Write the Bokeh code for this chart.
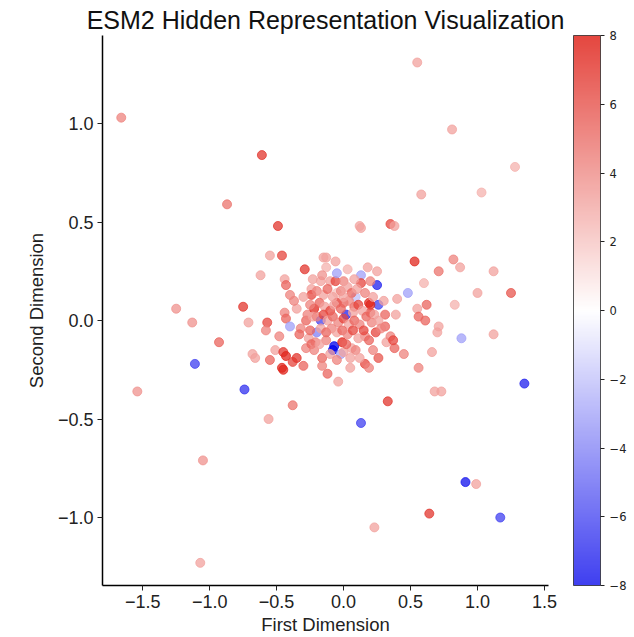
from bokeh.plotting import figure
from bokeh.models import ColumnDataSource, LinearColorMapper, ColorBar, FixedTicker, Range1d
from bokeh.embed import file_html
from bokeh.resources import INLINE

# ---- data ----
x_vals = [-1.66, -0.61, -0.87, -0.49, 0.55, 0.81, 1.28, 0.58, 1.03, 0.12,
          0.13, 0.35, 0.38, -0.55, -0.46, -0.29, -0.15, -0.13, -0.13, -0.62,
          -0.44, -0.43, -0.40, -0.24, -0.24, -0.23, -0.17, -0.10, -0.06, 0.00,
          -0.05, -0.05, -1.25, -0.75, -0.05, 0.53, 0.82, 0.87, 0.71, 1.12,
          0.60, 0.48, 1.00, 1.25, 0.40, 0.62, 0.83, 0.55, 0.13, 0.25,
          0.26, 0.13, 0.20, 0.09, 0.00, 0.08, 0.20, 0.56, 0.61, 0.71,
          0.31, 0.39, 0.31, 0.02, 0.19, 0.20, -0.71, -0.57, -0.44, -0.43,
          -0.40, -0.32, -0.28, -0.27, -0.22, -0.23, -0.17, -0.93, -0.58, -0.48,
          -0.68, -0.66, -0.55, -0.51, -0.45, -0.43, -0.46, -0.45, -0.38, -0.35,
          -0.30, -0.28, -0.26, -0.21, -0.20, -0.13, -0.16, -0.16, -0.12, -0.07,
          -0.08, -0.04, -0.74, -0.38, -0.56, 0.88, 0.66, 0.56, 0.68, 0.73,
          0.33, 0.13, 0.45, 0.38, 0.26, 0.16, 0.19, 0.05, 0.05, 0.06,
          0.24, 0.16, 0.32, 0.35, 0.37, 0.70, -0.01, -0.02, 1.35, 1.12,
          0.91, 0.99, 0.64, 1.17, 0.23, -1.13, -1.11, -1.54, -1.05, -1.07,
          -0.24,
          -0.20, -0.15, -0.12, -0.08, -0.02, 0.03, 0.06, 0.10, 0.16, 0.22,
          -0.25, -0.18, -0.14, -0.10, -0.07, -0.02, 0.04, 0.07, 0.11, 0.14,
          0.17, 0.23, -0.20, -0.15, -0.12, -0.08, -0.04, 0.00, 0.04, 0.08,
          0.12, 0.15, 0.21, 0.26, -0.25, -0.17, -0.13, -0.09, -0.05, -0.01,
          0.03, 0.07, 0.11, 0.19, -0.22, -0.18, -0.10, -0.05, 0.00, 0.02,
          0.09, 0.12, 0.22, -0.35, -0.33, -0.37, 0.30, 0.28, -0.30, 0.00,
          -0.16, 0.08, 0.03, 0.18, -0.06, 0.25]
y_vals = [1.03, 0.84, 0.59, 0.48, 1.31, 0.97, 0.78, 0.64, 0.65, 0.48,
          0.47, 0.49, 0.48, 0.33, 0.33, 0.26, 0.32, 0.32, 0.27, 0.23,
          0.21, 0.18, 0.13, 0.16, 0.13, 0.21, 0.20, 0.20, 0.20, 0.20,
          0.24, 0.14, 0.06, 0.07, 0.09, 0.30, 0.31, 0.27, 0.25, 0.25,
          0.19, 0.14, 0.14, 0.14, 0.11, 0.08, 0.08, 0.06, 0.23, 0.18,
          0.08, 0.19, 0.20, 0.12, 0.09, 0.07, 0.08, 0.02, 0.00, -0.03,
          0.03, 0.03, -0.03, 0.03, 0.09, 0.04, -0.01, -0.01, 0.04, 0.01,
          -0.03, -0.04, 0.00, 0.03, 0.06, 0.02, 0.00, -0.11, -0.05, -0.08,
          -0.17, -0.19, -0.20, -0.15, -0.16, -0.18, -0.24, -0.25, -0.21, -0.19,
          -0.23, -0.14, -0.09, -0.11, -0.06, -0.10, -0.19, -0.23, -0.27, -0.13,
          -0.15, -0.31, -0.35, -0.43, -0.50, -0.09, -0.16, -0.24, -0.36, -0.36,
          -0.41, -0.52, -0.17, -0.14, -0.19, -0.22, -0.24, -0.24, -0.19, -0.14,
          -0.06, -0.08, -0.11, -0.08, -0.10, -0.06, -0.11, -0.17, -0.32, -0.07,
          -0.82, -0.83, -0.98, -1.00, -1.05, -0.01, -0.22, -0.36, -0.71, -1.23,
          -0.12,
          0.15, 0.13, 0.16, 0.12, 0.15, 0.17, 0.14, 0.16, 0.14, 0.12,
          0.08, 0.09, 0.07, 0.05, 0.08, 0.06, 0.10, 0.04, 0.08, 0.05,
          0.02, 0.03, 0.02, 0.03, 0.00, 0.02, -0.01, 0.01, -0.02, 0.00,
          -0.02, -0.05, -0.01, 0.00, -0.05, -0.04, -0.06, -0.04, -0.06, -0.05,
          -0.07, -0.05, -0.09, -0.10, -0.15, -0.12, -0.17, -0.20, -0.16, -0.12,
          -0.15, -0.19, -0.15, 0.06, -0.07, 0.10, 0.10, -0.04, 0.12, 0.12,
          0.23, 0.21, 0.26, 0.27, 0.30, 0.25]
c_vals = [4, 6.5, 4.5, 6.5, 3, 3, 2.5, 3, 2.5, 3,
          3, 6, 3, 3, 6, 6.5, 3, 3, 2.5, 3,
          3, 5, 4, 3, 6, 3, 3, 3, 6, 4,
          -3, 2, 3.5, 6.5, 6.5, 7, 4, 3, 4.5, 3,
          2.5, -3, 3, 5.5, 3, 5, 2.5, 3, -3, -7,
          -6, 6, 4, -2, 5, 5, 7, 5, 5, 3,
          5, 3, 5, -7, 7, 6, 3, 6, 4, 5,
          -3, 4, 5, 4, 7, 3, -6, 5, 4, 4,
          3, 3, 5, 3, 6.5, 7, 7, 7, 6, 6.5,
          5, 4, 3, 4, -4, 4, 5, 4, 5, -8,
          -8, 3, -6.5, 4.5, 3, -3, 3, 4, 3, 3,
          6.5, -6, 4, 5, 5.5, 6, 4, 3, 3, 3,
          6, 4, 3, 4, 6, 3, 7, -3, -7, 3,
          -7.5, 3, 6.5, -6, 3, 3.5, -6, 3.5, 3.5, 3,
          5,
          4, 3, 5, 3, 4, 3, 5, 3, 4, 3,
          4, 5, 3, 6, 3, 5, 4, 3, 6, 3,
          5, 3, 4, 6, 3, 5, 4, 6, 3, 5,
          4, 6, 4, 3, 5, 3, 5, 4, 3, 5,
          4, 6, 3, 5, 4, 3, 3, 4, 3, 5,
          4, 3, 4, 3, 5, 4, 3, 4, 3, 3,
          3.5, 3, 2.5, 3, 3, 3]

x_ticks = [-1.5, -1.0, -0.5, 0.0, 0.5, 1.0, 1.5]
x_tick_labels = ["\u22121.5", "\u22121.0", "\u22120.5", "0.0", "0.5", "1.0", "1.5"]
y_ticks = [-1.0, -0.5, 0.0, 0.5, 1.0]
y_tick_labels = ["\u22121.0", "\u22120.5", "0.0", "0.5", "1.0"]
cbar_ticks = [-8, -6, -4, -2, 0, 2, 4, 6, 8]
cbar_tick_labels = ["\u22128", "\u22126", "\u22124", "\u22122", "0", "2", "4", "6", "8"]


def bwr_palette(n=256, lo=(0, 0, 235), hi=(220, 10, 0)):
    cols = []
    for i in range(n):
        t = i / (n - 1)
        if t < 0.5:
            f = t / 0.5
            rgb = [lo[k] + (255 - lo[k]) * f for k in range(3)]
        else:
            f = (t - 0.5) / 0.5
            rgb = [255 + (hi[k] - 255) * f for k in range(3)]
        cols.append("#%02x%02x%02x" % tuple(int(round(v)) for v in rgb))
    return cols


source = ColumnDataSource(dict(x=x_vals, y=y_vals, c=c_vals))
mapper = LinearColorMapper(palette=bwr_palette(), low=-8, high=8)

FONT = "Liberation Sans"
ALPHA = 0.75

p = figure(width=634, height=637, output_backend="svg", toolbar_location=None,
           x_range=Range1d(-1.80, 1.53), y_range=Range1d(-1.345, 1.447),
           min_border_left=102, min_border_right=86, min_border_top=35,
           min_border_bottom=52,
           title="ESM2 Hidden Representation Visualization")
p.title.text_font = FONT
p.title.text_font_size = "25px"
p.title.text_font_style = "normal"
p.title.align = "center"
p.title.text_color = "#111111"
p.title.standoff = 3
p.outline_line_color = None
p.xgrid.visible = False
p.ygrid.visible = False
p.background_fill_color = "white"
p.border_fill_color = "white"

p.scatter("x", "y", source=source, size=9,
          fill_color={"field": "c", "transform": mapper},
          line_color={"field": "c", "transform": mapper},
          fill_alpha=ALPHA, line_alpha=ALPHA)

for ax, ticks, labels, name in ((p.xaxis[0], x_ticks, x_tick_labels, "First Dimension"),
                                (p.yaxis[0], y_ticks, y_tick_labels, "Second Dimension")):
    ax.ticker = FixedTicker(ticks=ticks)
    ax.major_label_overrides = {t: l for t, l in zip(ticks, labels)}
    ax.minor_tick_line_color = None
    ax.major_tick_out = 5
    ax.major_tick_in = 0
    ax.axis_line_width = 1.5
    ax.axis_line_color = "black"
    ax.major_tick_line_color = "#222222"
    ax.major_label_text_font = FONT
    ax.major_label_text_font_size = "18px"
    ax.major_label_text_color = "#222222"
    ax.major_label_standoff = 4
    ax.axis_label = name
    ax.axis_label_text_font = FONT
    ax.axis_label_text_font_size = "18.5px"
    ax.axis_label_text_font_style = "normal"
    ax.axis_label_text_color = "#222222"
    ax.axis_label_standoff = 3

p.yaxis[0].axis_label_standoff = 8

cbar = ColorBar(color_mapper=mapper, width=27, height=550, padding=0, margin=0,
                location=(471, 0),
                scale_alpha=ALPHA, ticker=FixedTicker(ticks=cbar_ticks),
                major_label_overrides={t: l for t, l in zip(cbar_ticks, cbar_tick_labels)},
                major_label_text_font="DejaVu Sans", major_label_text_font_size="11.5px",
                major_label_text_color="#222222",
                major_tick_out=4, major_tick_in=0, major_tick_line_color="#222222",
                bar_line_color="#222222", bar_line_width=1,
                label_standoff=5, background_fill_color=None, border_line_color=None)
p.add_layout(cbar, "center")

open("out.html", "w").write(file_html(p, INLINE))
